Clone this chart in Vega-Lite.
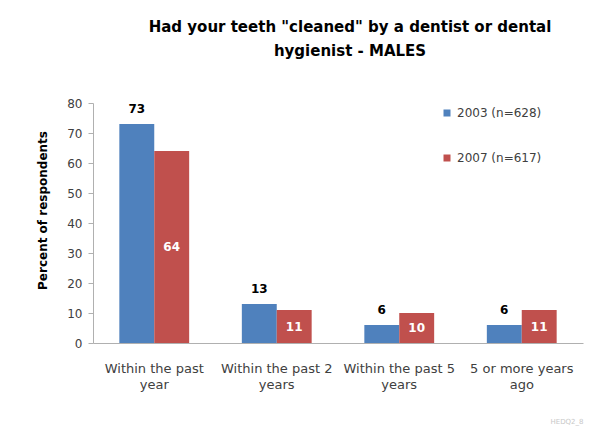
{
  "$schema": "https://vega.github.io/schema/vega-lite/v6.json",
  "width": 490,
  "height": 240,
  "autosize": "none",
  "padding": {"left": 93, "top": 103, "right": 9, "bottom": 105},
  "background": "white",
  "title": {
    "text": ["Had your teeth \"cleaned\"  by a dentist or dental", "hygienist - MALES"],
    "font": "DejaVu Sans",
    "fontSize": 15,
    "fontWeight": "bold",
    "color": "#000000",
    "anchor": "middle",
    "dx": 12,
    "offset": 38,
    "lineHeight": 24
  },
  "config": {"view": {"stroke": null}, "font": "DejaVu Sans"},
  "resolve": {"axis": {"y": "independent"}},
  "data": {
    "values": [
      {"category": "Within the past year", "series": "2003 (n=628)", "value": 73},
      {"category": "Within the past year", "series": "2007 (n=617)", "value": 64},
      {"category": "Within the past 2 years", "series": "2003 (n=628)", "value": 13},
      {"category": "Within the past 2 years", "series": "2007 (n=617)", "value": 11},
      {"category": "Within the past 5 years", "series": "2003 (n=628)", "value": 6},
      {"category": "Within the past 5 years", "series": "2007 (n=617)", "value": 10},
      {"category": "5 or more years ago", "series": "2003 (n=628)", "value": 6},
      {"category": "5 or more years ago", "series": "2007 (n=617)", "value": 11}
    ]
  },
  "encoding": {
    "x": {
      "field": "category",
      "type": "nominal",
      "sort": ["Within the past year", "Within the past 2 years", "Within the past 5 years", "5 or more years ago"],
      "scale": {"paddingInner": 0.43, "paddingOuter": 0.215},
      "axis": {
        "title": "HEDQ2_8",
        "titleFontSize": 7,
        "titleColor": "#c8c8c8",
        "titleFontWeight": "normal",
        "titleAnchor": "end",
        "titlePadding": 26,
        "labelAngle": 0,
        "labelFontSize": 13,
        "labelColor": "#404040",
        "labelPadding": 19,
        "labelLineHeight": 16,
        "labelOverlap": false,
        "labelExpr": "datum.label == 'Within the past year' ? ['Within the past', 'year'] : datum.label == 'Within the past 2 years' ? ['Within the past 2', 'years'] : datum.label == 'Within the past 5 years' ? ['Within the past 5', 'years'] : ['5 or more years', 'ago']",
        "ticks": false,
        "domainColor": "#b0b0b0",
        "labelLimit": 200
      }
    },
    "xOffset": {
      "field": "series",
      "type": "nominal",
      "scale": {"paddingInner": 0, "paddingOuter": 0}
    }
  },
  "layer": [
    {
      "mark": {"type": "bar"},
      "encoding": {
        "y": {
          "field": "value",
          "type": "quantitative",
          "scale": {"domain": [0, 80]},
          "axis": {
            "title": "Percent of respondents",
            "titleFontSize": 12,
            "titleFontWeight": "bold",
            "titleColor": "#000000",
            "titlePadding": 17,
            "titleY": 107,
            "values": [0, 10, 20, 30, 40, 50, 60, 70, 80],
            "labelOverlap": false,
            "grid": false,
            "labelFontSize": 12,
            "labelColor": "#404040",
            "labelPadding": 6,
            "tickSize": 5,
            "tickColor": "#b0b0b0",
            "domainColor": "#b0b0b0"
          }
        },
        "color": {
          "field": "series",
          "type": "nominal",
          "scale": {"domain": ["2003 (n=628)", "2007 (n=617)"], "range": ["#4F81BD", "#C0504D"]},
          "legend": {
            "orient": "none",
            "legendX": 348,
            "legendY": 4,
            "title": null,
            "symbolType": "square",
            "symbolSize": 49,
            "symbolStrokeWidth": 0,
            "labelFontSize": 12,
            "labelColor": "#404040",
            "rowPadding": 33
          }
        }
      }
    },
    {
      "transform": [{"filter": "datum.series == '2003 (n=628)'"}],
      "mark": {"type": "text", "baseline": "bottom", "dy": -8, "fontWeight": "bold", "fontSize": 12, "color": "#000000"},
      "encoding": {
        "y": {"field": "value", "type": "quantitative", "axis": null},
        "text": {"field": "value", "type": "quantitative"}
      }
    },
    {
      "transform": [{"filter": "datum.series == '2007 (n=617)'"}, {"calculate": "datum.value / 2", "as": "mid"}],
      "mark": {"type": "text", "baseline": "middle", "fontWeight": "bold", "fontSize": 12, "color": "#ffffff"},
      "encoding": {
        "y": {"field": "mid", "type": "quantitative", "axis": null},
        "text": {"field": "value", "type": "quantitative"}
      }
    }
  ]
}
